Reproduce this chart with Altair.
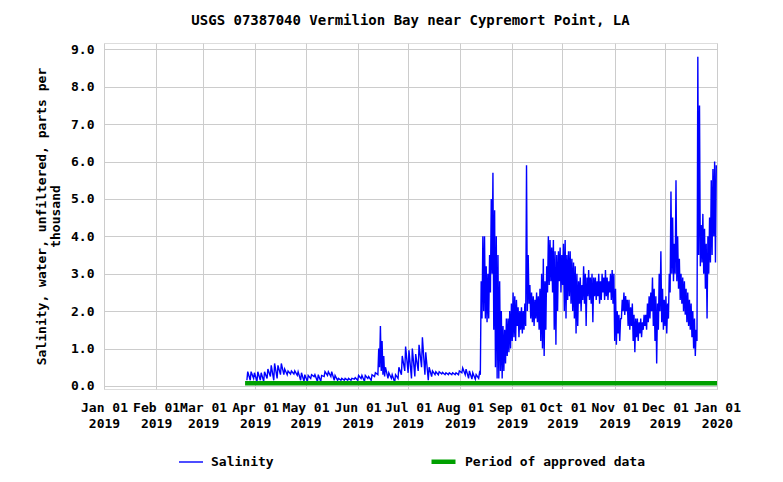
import altair as alt
import pandas as pd

FONT = "DejaVu Sans Mono"

title_text = "USGS 07387040 Vermilion Bay near Cypremort Point, LA"
y_title = ["Salinity, water, unfiltered, parts per", "thousand"]
series_names = ["Salinity", "Period of approved data"]
series_colors = ["#0000ff", "#00a000"]
series_widths = [1.4, 4.5]

# Salinity: daily (or two-day) low / high readings, ppt
sal_dates = [
    "2019-03-27", "2019-03-29", "2019-03-31", "2019-04-02", "2019-04-04", "2019-04-06",
    "2019-04-08", "2019-04-10", "2019-04-12", "2019-04-14", "2019-04-16", "2019-04-18",
    "2019-04-20", "2019-04-22", "2019-04-24", "2019-04-26", "2019-04-28", "2019-04-30",
    "2019-05-02", "2019-05-04", "2019-05-06", "2019-05-08", "2019-05-10", "2019-05-12",
    "2019-05-14", "2019-05-16", "2019-05-18", "2019-05-20", "2019-05-22", "2019-05-24",
    "2019-05-26", "2019-05-28", "2019-05-30", "2019-06-01", "2019-06-03", "2019-06-05",
    "2019-06-07", "2019-06-09", "2019-06-11", "2019-06-13", "2019-06-14", "2019-06-15",
    "2019-06-16", "2019-06-17", "2019-06-19", "2019-06-21", "2019-06-23", "2019-06-25",
    "2019-06-27", "2019-06-29", "2019-07-01", "2019-07-03", "2019-07-05", "2019-07-07",
    "2019-07-09", "2019-07-11", "2019-07-13", "2019-07-15", "2019-07-17", "2019-07-19",
    "2019-07-21", "2019-07-23", "2019-07-25", "2019-07-27", "2019-07-29", "2019-07-31",
    "2019-08-02", "2019-08-04", "2019-08-06", "2019-08-08", "2019-08-10", "2019-08-12",
    "2019-08-13", "2019-08-14", "2019-08-15", "2019-08-16", "2019-08-17", "2019-08-18",
    "2019-08-19", "2019-08-20", "2019-08-21", "2019-08-22", "2019-08-23", "2019-08-24",
    "2019-08-25", "2019-08-26", "2019-08-27", "2019-08-28", "2019-08-29", "2019-08-30",
    "2019-08-31", "2019-09-01", "2019-09-02", "2019-09-03", "2019-09-04", "2019-09-05",
    "2019-09-06", "2019-09-07", "2019-09-08", "2019-09-09", "2019-09-10", "2019-09-11",
    "2019-09-12", "2019-09-13", "2019-09-14", "2019-09-15", "2019-09-16", "2019-09-17",
    "2019-09-18", "2019-09-19", "2019-09-20", "2019-09-21", "2019-09-22", "2019-09-23",
    "2019-09-24", "2019-09-25", "2019-09-26", "2019-09-27", "2019-09-28", "2019-09-29",
    "2019-09-30", "2019-10-01", "2019-10-02", "2019-10-03", "2019-10-04", "2019-10-05",
    "2019-10-06", "2019-10-07", "2019-10-08", "2019-10-09", "2019-10-10", "2019-10-11",
    "2019-10-12", "2019-10-13", "2019-10-14", "2019-10-15", "2019-10-16", "2019-10-17",
    "2019-10-18", "2019-10-19", "2019-10-20", "2019-10-21", "2019-10-22", "2019-10-23",
    "2019-10-24", "2019-10-25", "2019-10-26", "2019-10-27", "2019-10-28", "2019-10-29",
    "2019-10-30", "2019-10-31", "2019-11-01", "2019-11-02", "2019-11-03", "2019-11-04",
    "2019-11-05", "2019-11-06", "2019-11-07", "2019-11-08", "2019-11-09", "2019-11-10",
    "2019-11-11", "2019-11-12", "2019-11-13", "2019-11-14", "2019-11-15", "2019-11-16",
    "2019-11-17", "2019-11-18", "2019-11-19", "2019-11-20", "2019-11-21", "2019-11-22",
    "2019-11-23", "2019-11-24", "2019-11-25", "2019-11-26", "2019-11-27", "2019-11-28",
    "2019-11-29", "2019-11-30", "2019-12-01", "2019-12-02", "2019-12-03", "2019-12-04",
    "2019-12-05", "2019-12-06", "2019-12-07", "2019-12-08", "2019-12-09", "2019-12-10",
    "2019-12-11", "2019-12-12", "2019-12-13", "2019-12-14", "2019-12-15", "2019-12-16",
    "2019-12-17", "2019-12-18", "2019-12-19", "2019-12-20", "2019-12-21", "2019-12-22",
    "2019-12-23", "2019-12-24", "2019-12-25", "2019-12-26", "2019-12-27", "2019-12-28",
    "2019-12-29", "2019-12-30", "2019-12-31",
]
sal_low = [
    0.15, 0.15, 0.20, 0.12, 0.15, 0.12,
    0.20, 0.25, 0.15, 0.20, 0.30, 0.30,
    0.30, 0.32, 0.32, 0.28, 0.15, 0.12,
    0.12, 0.20, 0.25, 0.12, 0.12, 0.25,
    0.28, 0.25, 0.15, 0.15, 0.15, 0.15,
    0.15, 0.15, 0.18, 0.15, 0.20, 0.12,
    0.20, 0.15, 0.25, 0.30, 0.50, 0.40,
    0.30, 0.25, 0.20, 0.20, 0.10, 0.20,
    0.30, 0.40, 0.35, 0.20, 0.25, 0.40,
    0.50, 0.30, 0.15, 0.25, 0.30, 0.30,
    0.32, 0.30, 0.30, 0.30, 0.30, 0.30,
    0.35, 0.30, 0.20, 0.18, 0.18, 0.20,
    0.30, 1.80, 2.00, 1.80, 1.70, 1.80,
    2.50, 3.00, 1.50, 0.50, 0.20, 0.20,
    0.40, 0.20, 0.40, 0.60, 0.80, 0.90,
    1.00, 1.20, 1.30, 1.20, 1.60, 1.30,
    1.50, 1.40, 1.50, 1.60, 2.00, 2.20,
    1.80, 1.70, 1.60, 1.80, 1.70, 1.50,
    1.20, 1.00, 0.80, 1.50, 2.50, 2.70,
    2.80, 2.50, 1.50, 1.10, 2.00, 2.80,
    2.50, 2.70, 2.00, 1.80, 2.30, 2.40,
    2.20, 2.00, 1.80, 1.40, 1.60, 2.20,
    2.00, 2.30, 2.20, 1.60, 2.40, 2.30,
    2.20, 1.70, 2.40, 2.30, 2.40, 2.20,
    2.30, 2.50, 2.30, 2.40, 2.30, 2.50,
    2.30, 2.20, 1.20, 1.10, 1.40, 1.20,
    1.80, 2.00, 1.90, 2.00, 1.60, 1.50,
    1.60, 1.20, 0.90, 1.30, 1.20, 1.40,
    1.30, 1.50, 1.60, 1.50, 1.70, 1.80,
    2.00, 1.60, 1.20, 0.60, 1.50, 2.00,
    1.70, 1.50, 1.60, 1.40, 1.80, 2.50,
    3.00, 2.80, 3.00, 2.80, 2.60, 2.30,
    2.20, 2.00, 1.90, 1.70, 1.60, 1.50,
    1.30, 1.00, 0.80, 1.20, 3.50, 3.20,
    3.30, 3.00, 2.60, 1.80, 3.00, 3.30,
    3.50, 4.00, 3.30,
]
sal_high = [
    0.38, 0.38, 0.35, 0.38, 0.35, 0.38,
    0.45, 0.55, 0.60, 0.55, 0.60, 0.45,
    0.40, 0.40, 0.40, 0.38, 0.35, 0.30,
    0.28, 0.30, 0.30, 0.30, 0.28, 0.38,
    0.38, 0.38, 0.28, 0.20, 0.20, 0.20,
    0.20, 0.20, 0.22, 0.28, 0.28, 0.28,
    0.25, 0.30, 0.35, 1.00, 1.60, 1.20,
    0.80, 0.50, 0.35, 0.30, 0.30, 0.50,
    0.80, 1.05, 0.95, 1.00, 0.85, 1.10,
    1.30, 0.90, 0.50, 0.40, 0.38, 0.38,
    0.36, 0.35, 0.35, 0.35, 0.35, 0.40,
    0.48, 0.45, 0.40, 0.35, 0.30, 0.35,
    2.80, 4.00, 4.00, 3.20, 3.00, 3.50,
    5.00, 5.70, 4.70, 4.00, 3.50, 2.80,
    2.00, 1.60, 1.50, 1.80, 1.80, 2.00,
    2.20, 2.50, 2.40, 2.30, 2.10, 2.00,
    2.10, 2.00, 2.20, 5.90, 3.50, 2.70,
    2.50, 2.40, 2.30, 2.50, 2.40, 2.60,
    3.00, 3.40, 2.80, 3.20, 4.00, 3.90,
    3.70, 3.90, 3.60, 3.50, 3.60, 3.70,
    3.50, 3.80, 3.90, 3.50, 3.60, 3.60,
    3.40, 3.30, 3.20, 3.00, 2.80, 2.90,
    2.70, 3.20, 3.00, 2.90, 3.10, 2.90,
    3.00, 2.90, 2.90, 2.80, 3.00, 2.80,
    3.00, 2.90, 3.10, 2.90, 2.80, 3.00,
    3.10, 3.00, 2.60, 2.00, 1.90, 1.80,
    2.30, 2.50, 2.40, 2.30, 2.30, 2.10,
    2.20, 1.90, 1.80, 1.80, 1.70, 1.80,
    1.70, 1.90, 1.90, 2.20, 2.40, 2.50,
    2.90, 2.60, 2.40, 2.20, 3.00, 3.60,
    2.60, 2.30, 2.40, 2.20, 3.00, 5.20,
    4.50, 3.80, 5.50, 4.00, 3.40, 3.00,
    2.90, 2.80, 2.60, 2.50, 2.30, 2.20,
    2.00, 1.80, 1.50, 8.80, 7.50, 4.30,
    4.60, 4.20, 3.80, 4.00, 4.50, 5.50,
    5.80, 6.00, 5.90,
]

approved_dates = ["2019-03-26", "2020-01-01"]
approved_level = 0.07

tick_months = [(2019, m) for m in range(1, 13)] + [(2020, 1)]

rows = []
for d, lo, hi in zip(sal_dates, sal_low, sal_high):
    rows.append({"t": d + "T02:00:00Z", "v": lo, "series": "Salinity"})
    rows.append({"t": d + "T14:00:00Z", "v": hi, "series": "Salinity"})
for d in approved_dates:
    rows.append({"t": d + "T00:00:00Z", "v": approved_level, "series": "Period of approved data"})
df = pd.DataFrame(rows)

leg = alt.Legend(
    title=None, orient="none", legendX=74, legendY=404, direction="horizontal",
    symbolType="stroke", symbolSize=576, labelFont=FONT, labelFontSize=13,
    labelFontWeight="bold", labelColor="black", labelLimit=400, labelOffset=7,
    columnPadding=148,
)

x_axis = alt.Axis(
    values=[alt.DateTime(year=y, month=m, date=1, utc=True) for y, m in tick_months],
    labelExpr="[utcFormat(datum.value, '%b %d'), utcFormat(datum.value, '%Y')]",
    title=None, grid=True, gridColor="#cccccc", ticks=False, domain=False,
    labelFont=FONT, labelFontSize=13, labelFontWeight="bold", labelColor="black",
    labelPadding=12, labelLineHeight=16, labelOverlap=False, labelFlush=False,
)
y_axis = alt.Axis(
    values=list(range(0, 10)), format=".1f", title=y_title, grid=True,
    gridColor="#cccccc", ticks=False, domain=False,
    labelFont=FONT, labelFontSize=13, labelFontWeight="bold", labelColor="black",
    labelPadding=10, titleFont=FONT, titleFontSize=13, titleFontWeight="bold",
    titleColor="black", titlePadding=8, titleLineHeight=14,
)

chart = alt.Chart(df).mark_line(strokeCap="butt").encode(
    x=alt.X("t:T", scale=alt.Scale(
        type="utc",
        domain=[alt.DateTime(year=2019, month=1, date=1, utc=True),
                alt.DateTime(year=2020, month=1, date=1, utc=True)]),
        axis=x_axis),
    y=alt.Y("v:Q", scale=alt.Scale(domain=[-0.083, 9.17], nice=False, zero=False), axis=y_axis),
    color=alt.Color("series:N", scale=alt.Scale(domain=series_names, range=series_colors), legend=leg),
    strokeWidth=alt.StrokeWidth("series:N", scale=alt.Scale(type="ordinal", domain=series_names, range=series_widths), legend=leg),
    detail="series:N",
).properties(
    width=613, height=346,
    title=alt.TitleParams(title_text, font=FONT, fontSize=14, fontWeight="bold",
                          color="black", anchor="middle", offset=15),
    autosize=alt.AutoSizeParams(type="none"),
    padding={"left": 96, "top": 35, "right": 50, "bottom": 85},
).configure_view(
    stroke="#222222", strokeWidth=1.5,
).configure(background="white")

chart.save("out.html", embed_options={"renderer": "svg", "actions": False})
